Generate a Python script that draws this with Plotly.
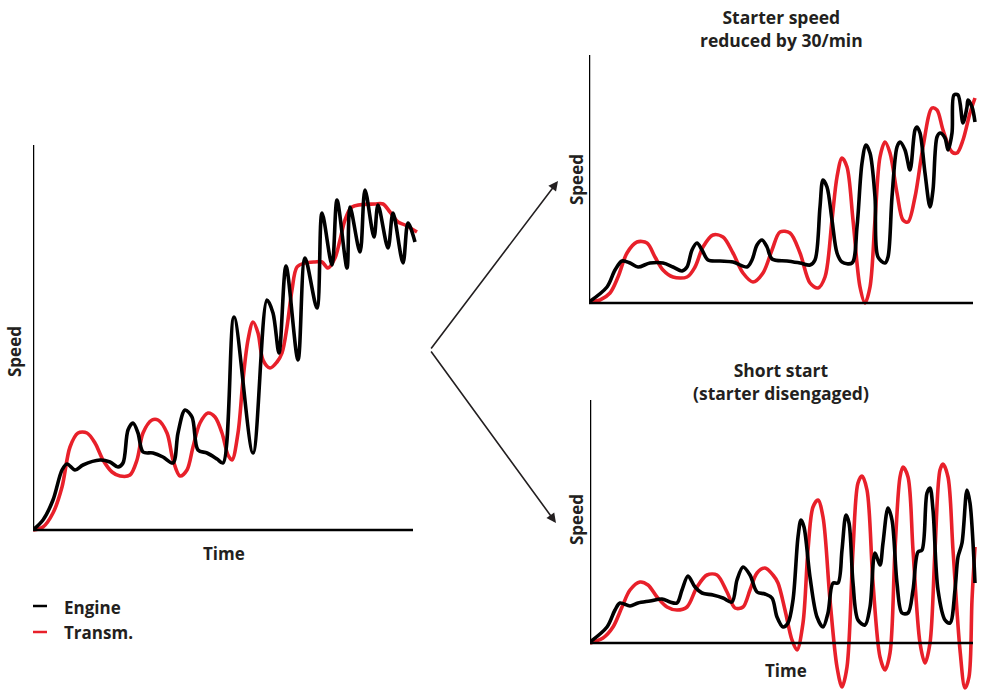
import plotly.graph_objects as go

# ---------------- data (arbitrary units) ----------------
# Left panel: normal start
main_engine_t = [0,10,20,29,34,42,50,67,77,85,90,95,100,105,110,120,130,140,145,152,159,165,174,184,190,
                 201,220,234,240,246,253,265,272,284,289,299,304,314,317,327,332,341,345,355,360,370,375,382]
main_engine_v = [0,10,30,60,66,60,65,70,68,63,67,100,107,97,78,77,73,67,97,120,113,80,77,71,67,
                 213,77,230,217,177,264,170,272,222,317,265,330,262,323,278,340,293,325,282,317,267,307,288]
main_transm_t = [0,10,20,29,37,45,54,62,70,79,87,97,104,110,119,125,134,140,147,154,160,167,175,182,189,
                 195,199,205,210,215,220,225,230,237,244,249,254,259,264,272,282,289,295,302,307,312,319,342,
                 350,357,365,372,384]
main_transm_v = [0,3,17,43,83,97,97,87,70,58,54,55,70,97,110,110,97,70,54,60,83,107,117,113,97,
                 75,70,97,150,190,208,197,170,162,168,177,203,240,263,267,268,268,262,272,290,310,323,326,326,
                 318,308,305,298,293]

# Top-right panel: starter speed reduced by 30/min
red_engine_t = [0,18,26,33,41,49,61,74,84,93,98,103,108,113,119,131,144,158,163,168,173,178,183,198,211,221,
                226,231,234,238,243,248,253,263,268,273,277,281,286,289,296,299,303,308,311,316,321,326,328,
                331,336,341,344,348,351,356,359,363,365,369,374,378,379,383,386]
red_engine_v = [1,16,33,42,40,36,40,40,36,32,36,53,60,53,43,42,41,36,43,58,63,56,44,42,40,38,
                43,96,123,116,83,50,41,40,76,140,158,150,106,46,40,46,106,156,161,153,133,173,176,
                170,130,96,113,166,170,165,153,170,208,208,180,196,203,196,181]
red_transm_t = [0,11,21,29,38,48,58,66,74,84,98,106,114,124,134,144,154,164,174,183,191,201,211,221,229,236,
                243,248,253,258,264,271,276,281,286,291,296,301,308,314,319,326,334,343,348,354,363,368,374,381,386]
red_transm_v = [1,3,10,26,50,61,60,46,33,26,26,36,56,68,66,50,30,21,30,53,71,70,50,20,15,26,
                83,126,145,136,83,16,0,16,83,146,161,150,110,83,81,106,156,195,193,173,151,150,163,190,205]

# Bottom-right panel: short start (starter disengaged)
short_engine_t = [0,17,25,30,40,48,60,72,80,87,92,98,105,112,123,133,142,147,153,160,167,175,182,187,193,198,
                  203,208,211,214,220,227,233,238,243,248,252,256,259,263,268,275,280,285,290,293,298,302,307,
                  312,318,323,328,332,337,340,343,348,355,360,365,368,372,377,380,385]
short_engine_v = [1,16,33,40,37,40,42,44,41,40,53,67,56,50,48,45,41,63,76,68,51,49,45,26,16,20,
                  43,106,123,116,66,26,16,30,60,60,93,128,120,60,23,18,36,90,78,100,135,123,60,
                  30,30,53,91,93,150,155,133,53,23,20,53,86,100,153,140,60]
short_transm_t = [0,13,23,32,40,50,58,67,77,87,97,107,117,127,137,145,153,160,167,175,183,188,195,202,207,213,
                  218,223,228,233,240,247,252,257,263,268,272,277,283,290,295,300,305,310,313,318,323,330,335,
                  340,345,350,353,358,363,370,375,379,382,385]
short_transm_v = [0,5,16,36,53,61,58,46,36,33,36,56,68,68,51,35,36,53,70,75,68,60,33,3,-7,20,
                  93,136,143,126,43,-24,-44,-24,93,160,167,153,60,-14,-27,-10,93,166,176,166,93,0,-20,
                  0,93,173,179,166,93,-7,-45,-34,43,96]

legend_labels = ["Engine", "Transm."]
axis_title_speed = "Speed"
axis_title_time = "Time"
title_top = "Starter speed<br>reduced by 30/min"
title_bottom = "Short start<br>(starter disengaged)"

BLACK = "#000000"
RED = "#e8202a"
TXT = "#231f20"
W, H = 981, 691

def px(x):
    return x / W

def py(y):
    return 1 - y / H

fig = go.Figure()

line_kw = dict(shape="spline", smoothing=0.9, width=3.6)

def add(t, v, color, xa, ya):
    fig.add_trace(go.Scatter(x=t, y=v, mode="lines", line=dict(color=color, **line_kw),
                             xaxis=xa, yaxis=ya, showlegend=False, hoverinfo="skip"))

add(main_transm_t, main_transm_v, RED, "x", "y")
add(main_engine_t, main_engine_v, BLACK, "x", "y")
add(red_transm_t, red_transm_v, RED, "x2", "y2")
add(red_engine_t, red_engine_v, BLACK, "x2", "y2")
add(short_transm_t, short_transm_v, RED, "x3", "y3")
add(short_engine_t, short_engine_v, BLACK, "x3", "y3")

hide = dict(showgrid=False, zeroline=False, showticklabels=False, ticks="", showline=False, fixedrange=True)

fig.update_layout(
    width=W, height=H,
    margin=dict(l=0, r=0, t=0, b=0),
    paper_bgcolor="white", plot_bgcolor="rgba(0,0,0,0)",
    xaxis=dict(domain=[px(33), px(420)], range=[0, 387], **hide),
    yaxis=dict(domain=[py(533), py(145)], range=[-3, 385], **hide),
    xaxis2=dict(domain=[px(589), px(977)], range=[0, 388], **hide),
    yaxis2=dict(domain=[py(308), py(55)], range=[-5, 248], **hide),
    xaxis3=dict(domain=[px(590), px(977)], range=[0, 387], **hide),
    yaxis3=dict(domain=[py(691), py(400)], range=[-48, 243], **hide),
    showlegend=False,
)

shapes = []
def axes_lines(xr, yr, xend, yend):
    shapes.append(dict(type="line", xref=xr, yref=yr, x0=0, y0=0, x1=xend, y1=0,
                       line=dict(color=BLACK, width=2.5)))
    shapes.append(dict(type="line", xref=xr, yref=yr, x0=0, y0=0, x1=0, y1=yend,
                       line=dict(color=BLACK, width=2.5)))

axes_lines("x", "y", 380, 385)
axes_lines("x2", "y2", 384, 248)
axes_lines("x3", "y3", 383, 243)

# legend sample lines
shapes.append(dict(type="line", xref="paper", yref="paper", x0=px(33), x1=px(47), y0=py(606), y1=py(606),
                   line=dict(color=BLACK, width=2.5)))
shapes.append(dict(type="line", xref="paper", yref="paper", x0=px(33), x1=px(47), y0=py(632), y1=py(632),
                   line=dict(color=RED, width=2.5)))
fig.update_layout(shapes=shapes)

FONT = "Open Sans"
def txt(x, y, s, size=17, angle=0, xanchor="center"):
    fig.add_annotation(x=px(x), y=py(y), xref="paper", yref="paper", text="<b>%s</b>" % s,
                       showarrow=False, textangle=angle, xanchor=xanchor, yanchor="middle",
                       font=dict(family=FONT, size=size, color=TXT))

txt(15, 352, axis_title_speed, angle=-90)
txt(224, 553, axis_title_time)
txt(576, 180, axis_title_speed, angle=-90)
txt(576, 520, axis_title_speed, angle=-90)
txt(786, 670, axis_title_time)
fig.add_annotation(x=px(781), y=py(28), xref="paper", yref="paper", text="<b>" + title_top + "</b>",
                   showarrow=False, xanchor="center", yanchor="middle", align="center",
                   font=dict(family=FONT, size=17.5, color=TXT))
fig.add_annotation(x=px(781), y=py(381), xref="paper", yref="paper", text="<b>" + title_bottom + "</b>",
                   showarrow=False, xanchor="center", yanchor="middle", align="center",
                   font=dict(family=FONT, size=17.5, color=TXT))
txt(62, 607, legend_labels[0], xanchor="left")
txt(62, 632, legend_labels[1], xanchor="left")

# arrows
for hx, hy in [(558, 181), (556, 523)]:
    fig.add_annotation(x=px(hx), y=py(hy), xref="paper", yref="paper", text="",
                       showarrow=True, axref="pixel", ayref="pixel",
                       ax=430 - hx, ay=350 - hy, arrowhead=2, arrowsize=1.2, arrowwidth=1.6,
                       arrowcolor=TXT, standoff=0)

fig.write_html("out.html", config={"displayModeBar": False},
               post_script="document.body.style.margin='0';document.body.style.padding='0';")
